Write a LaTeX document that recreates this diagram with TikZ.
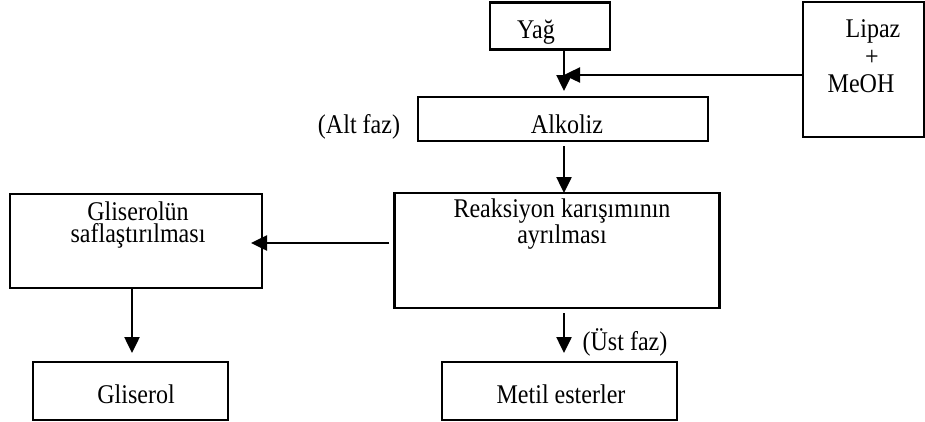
\documentclass[tikz,border=0pt]{standalone}
\usepackage{fontspec}
\setmainfont[FakeStretch=0.89]{Liberation Serif}
\usetikzlibrary{arrows.meta}
\begin{document}
\begin{tikzpicture}[x=1pt,y=-1pt,
  box/.style={draw,line width=2.5pt,rectangle,inner sep=0pt},
  txt/.style={inner sep=0pt,anchor=base,text height=17pt,text depth=4pt,font=\fontsize{27}{27}\selectfont},
  txttwo/.style={inner sep=0pt,anchor=base,align=center,font=\fontsize{27}{22.5}\selectfont},
  arr/.style={line width=2.5pt,-{Triangle[length=16pt,width=15pt]}}]
\useasboundingbox (0,0) rectangle (925,421);
% boxes
\node[box,minimum width=120,minimum height=47] (yag) at (550,26) {};
\node[box,minimum width=121,minimum height=135] (lipaz) at (863.5,69.5) {};
\node[box,minimum width=290,minimum height=44] (alkoliz) at (563,119) {};
\node[box,minimum width=325,minimum height=115] (reak) at (557,250.5) {};
\node[box,minimum width=252,minimum height=94] (glsaf) at (136,241) {};
\node[box,minimum width=195,minimum height=58] (glis) at (130.5,391) {};
\node[box,minimum width=235,minimum height=58] (metil) at (559.5,391) {};
% texts
\node[txt] (yagT) at (536,38) {Yağ};
\node[txt] (lipT1) at (873,37) {Lipaz};
\node[txt] (lipT2) at (872,65) {+};
\node[txt] (lipT3) at (861,92) {MeOH};
\node[txt] (alkT) at (567,133) {Alkoliz};
\node[txt] (altT) at (359,133) {(Alt faz)};
\node[txttwo] (reakT) at (562,243) {Reaksiyon karışımının\\ayrılması};
\node[txttwo] (glsafT) at (138,242.5) {Gliserolün\\saflaştırılması};
\node[txt] (glisT) at (136,403) {Gliserol};
\node[txt] (metilT) at (561,403) {Metil esterler};
\node[txt] (ustT) at (625,350) {(Üst faz)};
% connector coordinates
\coordinate (cx) at (564,0);
\coordinate (gx) at (132,0);
\coordinate (yj) at (564,75);
\coordinate (ryA) at (389,243);
\coordinate (ryB) at (251,243);
\coordinate (aS) at (564,146);
\coordinate (rS) at (564,313);
\coordinate (yE) at (564,91);
\coordinate (aE) at (564,193);
\coordinate (gE) at (132,353);
\coordinate (mE) at (564,353);
% connectors
\draw[arr] (yag.south -| cx) -- (yE);
\draw[arr] (lipaz.west |- yj) -- (yj);
\draw[arr] (aS) -- (aE);
\draw[arr] (ryA) -- (ryB);
\draw[arr] (glsaf.south -| gx) -- (gE);
\draw[arr] (rS) -- (mE);
\end{tikzpicture}
\end{document}
